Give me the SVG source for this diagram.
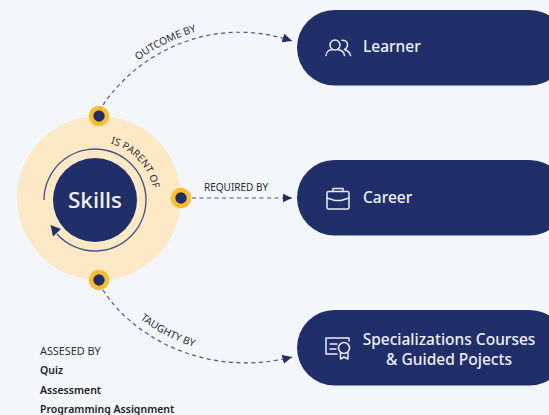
<svg xmlns="http://www.w3.org/2000/svg" width="549" height="415" viewBox="0 0 549 415">
<style>
text{font-family:"Noto Sans","Open Sans",sans-serif}
.lab{font-size:10px;fill:#2b2b33}
.big{font-size:10.300px}
.ass{font-size:10.800px}
.bold{font-size:10.500px;font-weight:600;fill:#1c1c24}
.pill{fill:#202f69}
.pt{fill:#eef1f7;font-weight:500;font-size:15.500px;text-anchor:middle}
.ic{fill:none;stroke:#e8ebf3;stroke-width:1.500;stroke-linecap:round;stroke-linejoin:round}
.dash{fill:none;stroke:#4a5588;stroke-width:1.200;stroke-dasharray:4 3.500}
.hub{fill:#fbbf2d}.dot{fill:#202f69}
</style>
<defs>
<marker id="arr" markerUnits="userSpaceOnUse" markerWidth="11" markerHeight="10" refX="9.500" refY="4.500" orient="auto"><path d="M0 0L9.500 4.500L0 9Z" fill="#202f69"/></marker>
<path id="p-parent" d="M110.500 143.500A59 59 0 0 1 153.800 195"/>
<path id="p-out" d="M138 60.500Q163 42 198 31"/>
<path id="p-taught" d="M140 319Q163 337 197 348"/>
</defs>
<rect width="549" height="415" fill="#f3f7fb"/>
<g id="connectors">
<path class="dash" d="M103 105C140 50 215 15 292 41" marker-end="url(#arr)"/>
<path class="dash" d="M192 198H292" marker-end="url(#arr)"/>
<path class="dash" d="M103 290C135 340 210 378 292 357" marker-end="url(#arr)"/>
</g>
<g id="skills">
<circle cx="99" cy="198" r="82" fill="#fde9c6"/>
<path d="M44 200A51 51 0 1 1 57 234" fill="none" stroke="#4a5588" stroke-width="1.400"/>
<path d="M50.500 225L61 229L53 236.500Z" fill="#202f69"/>
<circle cx="95" cy="200" r="42" fill="#202f69"/>
<text x="95" y="208" text-anchor="middle" font-size="22.500" font-weight="500" fill="#f2f4f9">Skills</text>
<text class="lab"><textPath href="#p-parent" textLength="65" lengthAdjust="spacing">IS PARENT OF</textPath></text>
</g>
<g id="port-top"><circle class="hub" cx="99" cy="116" r="10.300"/><circle class="dot" cx="99" cy="116" r="5.700"/></g>
<g id="port-right"><circle class="hub" cx="181" cy="198" r="10.300"/><circle class="dot" cx="181" cy="198" r="5.700"/></g>
<g id="port-bottom"><circle class="hub" cx="99" cy="280" r="10.300"/><circle class="dot" cx="99" cy="280" r="5.700"/></g>
<g id="learner">
<rect class="pill" x="297" y="10" width="270" height="75.500" rx="37.700"/>
<g class="ic"><circle cx="335" cy="45" r="5"/><path d="M326 55.500C326.500 51 330 49.800 332 49.800M338 49.800C341.500 50 344 52 344.500 55.500"/><path d="M342 40.300C346 40 348 43 347.500 45.500C347 48 346 49 344.500 49.500C347.500 50.500 350 52.500 350.500 55.500"/></g>
<text class="pt" x="363" y="52" style="text-anchor:start">Learner</text>
</g>
<g id="career">
<rect class="pill" x="297" y="160" width="270" height="75.500" rx="37.700"/>
<g class="ic"><rect x="327" y="191.500" width="22" height="17.500" rx="1.500"/><path d="M333 191.500V188.500H343V191.500M327 198L335 200.500H341L349 198"/></g>
<text class="pt" x="363" y="203" style="text-anchor:start">Career</text>
</g>
<g id="specializations">
<rect class="pill" x="297" y="310" width="270" height="75.500" rx="37.700"/>
<g class="ic"><path d="M337 354H326V338H349V341M330 344H337M330 349H336"/><circle cx="344" cy="348" r="5.500"/><path d="M340.500 353V359L344 357L348 359V353"/></g>
<text class="pt" x="449" y="345">Specializations Courses</text>
<text class="pt" x="449" y="365">&amp; Guided Pojects</text>
</g>
<g id="labels">
<text class="lab big"><textPath href="#p-out">OUTCOME BY</textPath></text>
<text class="lab" x="204" y="191">REQUIRED BY</text>
<text class="lab big"><textPath href="#p-taught">TAUGHTY BY</textPath></text>
<text class="lab ass" x="40" y="355">ASSESED BY</text>
<text class="bold" x="40" y="374">Quiz</text>
<text class="bold" x="40" y="394">Assessment</text>
<text class="bold" x="40" y="413">Programming Assignment</text>
</g>
</svg>
